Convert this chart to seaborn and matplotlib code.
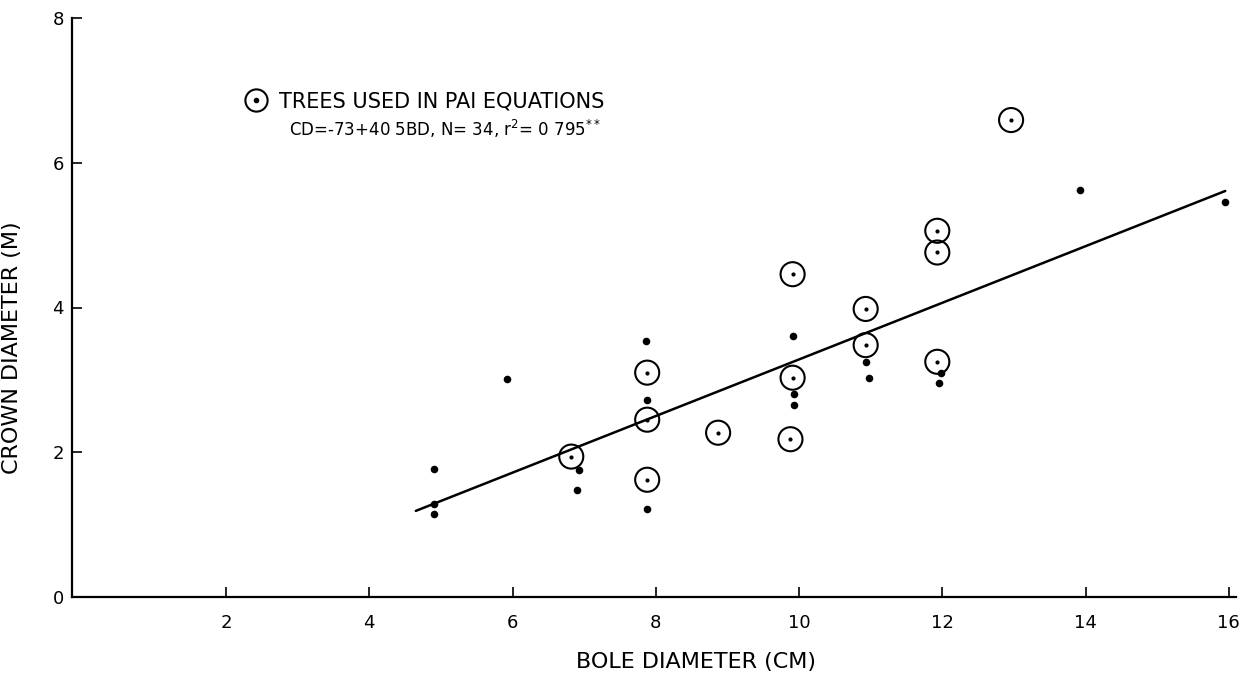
import matplotlib
matplotlib.use("Agg")
import matplotlib.pyplot as plt
import seaborn as sns
import pandas as pd
from matplotlib.lines import Line2D
from matplotlib.legend_handler import HandlerTuple

# ---- data ----
dot_x = [4.90, 4.90, 4.90, 5.92, 6.93, 6.90, 7.86, 7.88, 7.88, 9.92, 9.93, 9.93,
         10.93, 10.97, 11.98, 11.96, 13.92, 15.95]
dot_y = [1.77, 1.28, 1.15, 3.01, 1.76, 1.48, 3.54, 2.72, 1.22, 3.60, 2.81, 2.65,
         3.25, 3.03, 3.09, 2.96, 5.63, 5.46]

pai_x = [6.82, 7.88, 7.88, 7.88, 8.87, 9.91, 9.91, 9.88, 10.93, 10.93, 11.93, 11.93,
         11.93, 12.96]
pai_y = [1.94, 3.10, 2.45, 1.62, 2.27, 4.46, 3.03, 2.18, 3.98, 3.48, 5.06, 4.76,
         3.25, 6.59]

line_x = [4.65, 15.95]
line_y = [1.19, 5.61]

x_ticks = [2, 4, 6, 8, 10, 12, 14, 16]
y_ticks = [0, 2, 4, 6, 8]

legend_label = "TREES USED IN PAI EQUATIONS"
equation_text = "CD=-73+40 5BD, N= 34, r$^2$= 0 795$^{**}$"
x_label = "BOLE DIAMETER (CM)"
y_label = "CROWN DIAMETER (M)"

dots = pd.DataFrame({"x": dot_x, "y": dot_y})
pai = pd.DataFrame({"x": pai_x, "y": pai_y})
reg = pd.DataFrame({"x": line_x, "y": line_y})

sns.set_theme(style="white")
plt.rcParams["font.family"] = ["DejaVu Sans"]
plt.rcParams["text.color"] = "black"
plt.rcParams["axes.labelcolor"] = "black"

W, H = 1246, 685
fig = plt.figure(figsize=(W / 100, H / 100), dpi=100)
ax = fig.add_axes([72 / W, (H - 597) / H, 1164 / W, 579 / H])

sns.lineplot(data=reg, x="x", y="y", ax=ax, color="black", linewidth=1.8)
sns.scatterplot(data=dots, x="x", y="y", ax=ax, color="black", s=30,
                edgecolor="black", linewidth=0, zorder=3)
sns.scatterplot(data=pai, x="x", y="y", ax=ax, s=300, facecolor="none",
                edgecolor="black", linewidth=1.5, zorder=3)
sns.scatterplot(data=pai, x="x", y="y", ax=ax, color="black", s=9,
                linewidth=0, zorder=4)

ax.set_xlim(-0.15, 16.1)
ax.set_ylim(0, 8.0)
ax.set_xticks(x_ticks)
ax.set_yticks(y_ticks)
ax.set_xticklabels([str(t) for t in x_ticks], fontsize=13)
ax.set_yticklabels([str(t) for t in y_ticks], fontsize=13)
ax.tick_params(axis="x", direction="in", length=7, width=1.2, pad=12,
               bottom=True, colors="black")
ax.tick_params(axis="y", direction="in", length=7, width=1.2, pad=6,
               left=True, colors="black")
ax.yaxis.get_major_ticks()[0].tick1line.set_visible(False)

for side in ["top", "right"]:
    ax.spines[side].set_visible(False)
for side in ["left", "bottom"]:
    ax.spines[side].set_color("black")
    ax.spines[side].set_linewidth(1.6)

ax.set_xlabel(x_label, fontsize=16)
ax.set_ylabel(y_label, fontsize=16)
ax.xaxis.set_label_coords(0.536, -0.095)
ax.yaxis.set_label_coords(-0.043, 0.43)

ring = Line2D([], [], marker="o", markersize=16, markerfacecolor="none",
              markeredgecolor="black", markeredgewidth=1.5, linestyle="none")
center = Line2D([], [], marker="o", markersize=3, color="black", linestyle="none")
ax.legend([(ring, center)], [legend_label], handler_map={tuple: HandlerTuple(ndivide=1)},
          loc="center left", bbox_to_anchor=(0.149, 0.856), frameon=False,
          fontsize=15, handlelength=1.0, handletextpad=0.6, borderaxespad=0,
          borderpad=0)

ax.text(0.186, 0.808, equation_text, transform=ax.transAxes, fontsize=12,
        ha="left", va="center", color="black")

fig.savefig("out.png", dpi=100, facecolor="white")
